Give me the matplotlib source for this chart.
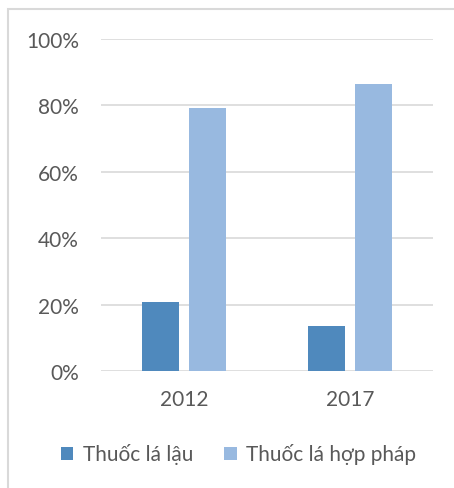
import matplotlib

matplotlib.use("Agg")
import matplotlib.pyplot as plt
import numpy as np
from matplotlib.patches import Rectangle

years = ["2012", "2017"]
illegal = [20.7, 13.7]
legal = [79.3, 86.3]
series_names = ["Thuốc lá lậu", "Thuốc lá hợp pháp"]
yticks = [0, 20, 40, 60, 80, 100]

plt.rcParams["font.family"] = ["Lato", "DejaVu Sans"]
text_col = "#595959"

fig = plt.figure(figsize=(4.54, 4.89), dpi=100)
ax = fig.add_axes([101 / 454, 1 - 372 / 489, 332 / 454, 332 / 489])

x = np.arange(len(years))
w = 0.223
off = 0.142
ax.bar(x - off, illegal, w, color="#4F89BD", label=series_names[0], zorder=3)
ax.bar(x + off, legal, w, color="#98B9E0", label=series_names[1], zorder=3)

ax.set_xlim(-0.5, 1.5)
ax.set_ylim(0, 100)
ax.set_yticks(yticks)
ax.set_yticklabels([f"{v}%" for v in yticks])
ax.set_xticks(x)
ax.set_xticklabels(years)
ax.grid(axis="y", color="#D9D9D9", linewidth=1.2, zorder=0)
for s in ax.spines.values():
    s.set_visible(False)
ax.tick_params(length=0, labelsize=15, colors=text_col)
ax.tick_params(axis="y", pad=16)
ax.tick_params(axis="x", pad=13)

leg = fig.legend(loc="center", bbox_to_anchor=(0.525, 1 - 455 / 489), ncol=2,
                 frameon=False, fontsize=15, handlelength=0.6, handleheight=0.6,
                 handletextpad=0.45, columnspacing=1.5)
for t in leg.get_texts():
    t.set_color(text_col)

# chart border (cut off at right and bottom)
fig.patches.append(Rectangle((8 / 454, -0.1), 1.2, 1 - 10 / 489 + 0.1,
                             transform=fig.transFigure, fill=False,
                             edgecolor="#D9D9D9", linewidth=1.5))

fig.savefig("out.png", dpi=100)
